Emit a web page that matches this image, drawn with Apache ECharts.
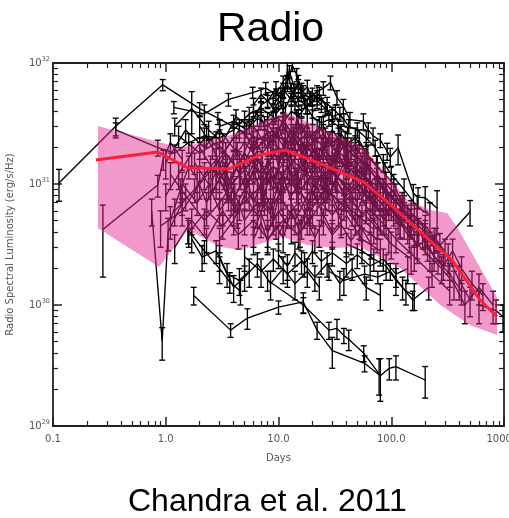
<!DOCTYPE html>
<html>
<head>
<meta charset="utf-8">
<script src="https://cdn.jsdelivr.net/npm/echarts@6/dist/echarts.min.js"></script>
<style>
  html, body { margin: 0; padding: 0; background: #fff; }
  #chart { width: 509px; height: 518px; }
</style>
</head>
<body>
<div id="chart"></div>
<script>
// Luminosities below are given in units of 1e30 erg/s/Hz.
const LUM_UNIT = 1e30;

// Individual radio light curves: [days, luminosity, 1-sigma error]
const sn01 = [[0.113,10.2,3],[0.36,30,5],[0.94,66,7],[2.0,42,5],[2.9,35,4],[4.5,28,4],[6.5,24,4],[9,22,3]];
const sn02 = [[0.36,28,4],[0.85,20,3],[1.2,18,3],[1.6,22,4],[2.2,25,4],[3,24,4],[4,28,4],[5.5,38,5],[7,42,5],[9,36,4]];
const sn03 = [[1.2,30,5],[1.7,42,16],[2.4,28,5],[3.2,22,4],[4.2,36,5],[5.5,30,4],[7,45,6],[9,52,6],[11,60,8],[13,50,6],[16,40,5]];
const sn04 = [[1.18,43,5],[2.2,38,7],[3.6,50,6],[5.9,57,6],[7.7,62,7],[9.5,55,6],[11,70,8],[12.5,85,10],[14,60,7]];
const sn05 = [[9,45,6],[10.5,55,7],[12,70,9],[13.3,95,10],[14.5,80,10],[16,60,8],[19,50,6],[22,48,6]];
const sn06 = [[14,45,6],[16,55,7],[19,52,6],[22,58,7],[25,62,8],[28.9,69,9],[33,52,7],[37.6,44,6],[43,34,5],[56.6,33,5],[62.6,28,4],[69,25,4],[80,23,3],[92,18.7,3],[98,16.7,3],[115,19.9,5.5],[157,8.4,1.5],[173,7.8,1.5],[200,7.7,1.8],[255,6.3,2.5]];
const sn07 = [[20,40,5],[26,42,5],[30,36,5],[35,38,5],[42,30,4],[50,28,4],[60,24,3.5],[72,20,3],[85,15,2.5],[100,12,2],[130,9,2],[170,6.5,1.5],[220,5.5,1.5]];
const sn08 = [[150,4.5,1],[200,3.8,0.9],[270,3.1,0.8],[500,5.9,1.4]];
const sn09 = [[5,35,5],[6,40,5],[7.5,32,4],[9,40,5],[10,48,6],[11.5,42,5],[13,55,7],[15,65,8],[17,48,6],[20,55,7],[24,45,6],[30,38,5]];
const sn10 = [[8,50,7],[9.5,38,5],[11,45,6],[12,90,12],[13,60,8],[15,50,6],[18,44,6],[22,52,7],[27,46,6],[32,40,5],[38,34,4]];
const sn11 = [[1.2,6,1.5],[1.8,9,2],[2.5,14,3],[3.5,10,2.5],[5,18,4],[7,12,3],[10,20,4],[14,15,3],[20,11,2.5],[30,8,2],[45,6,1.5],[70,4.2,1]];
const sn12 = [[1.1,12,3],[1.5,8,2],[2.2,5,1.2],[3,7,1.5],[4.5,12,3],[6,22,5],[9,28,6],[12,18,4],[17,25,5],[25,14,3],[40,10,2.5],[60,8,2],[90,5,1.2]];
const sn13 = [[1.3,25,5],[2,18,4],[2.8,22,5],[4,15,3.5],[5.5,8,2],[8,6,1.5],[11,9,2],[15,13,3],[22,20,4],[32,16,3.5],[50,12,3],[80,7,1.5],[120,4.5,1]];
const sn14 = [[0.9,4.5,1.5],[1.4,6,1.5],[2,10,2.5],[3,16,4],[4,24,5],[6,30,6],[8,20,4],[11,32,6],[15,24,5],[20,18,4],[28,22,5],[40,14,3],[55,11,2.5],[75,8,2],[110,6,1.3],[160,4,1]];
const sn15 = [[1.6,4,1],[2.3,6,1.5],[3.2,4.5,1],[4.5,6.5,1.5],[6.5,9,2],[9,14,3],[13,10,2.5],[19,7,1.5],[27,9,2],[38,6.5,1.5],[52,4.5,1],[75,3.5,0.8]];
const sn16 = [[2,30,6],[2.6,20,4],[3.3,12,3],[4.2,20,4],[5.5,14,3],[7.5,25,5],[10,16,3.5],[13,28,6],[18,20,4],[25,26,5],[35,18,4],[48,14,3],[65,10,2.5],[90,7,1.5]];
const sn17 = [[3,3.5,0.8],[4,5,1.2],[5,8,2],[6.5,5.5,1.2],[8.5,12,3],[11,7,1.5],[14,5,1.2],[18,8,2],[24,12,3],[33,9,2],[45,7,1.5],[65,5,1.2],[100,3.2,0.8],[150,2.4,0.6]];
const sn18 = [[5,28,6],[6,18,4],[7,35,7],[8.5,22,5],[10,30,6],[12,18,4],[14,24,5],[17,15,3],[21,20,4],[26,12,3],[33,17,4],[42,12,3],[55,9,2],[70,6.5,1.5]];
const sn19 = [[1.0,15,4],[1.5,28,6],[2.2,20,4],[3,28,6],[4.3,18,4],[6,10,2.5],[8,14,3],[10.5,8,2],[14,11,2.5],[19,6,1.5],[26,9,2],[36,5,1.2]];
const sn20 = [[6,4,1],[7.5,7,1.5],[9,5,1.2],[11,12,3],[13,7,1.5],[16,4.5,1],[20,9,2],[24,6,1.5],[30,4,1],[40,5.5,1.2],[55,3.5,0.8],[80,2.8,0.7]];
const sn21 = [[2.5,8,2],[3.5,14,3],[5,22,5],[7,15,3.5],[9,9,2],[12,14,3],[16,9,2],[22,14,3],[30,10,2],[42,15,3.5],[60,11,2.5],[85,9,2],[120,6.5,1.5],[170,5,1.2],[240,3.5,0.8]];
const sn22 = [[8,32,7],[9.5,24,5],[11,35,7],[13,26,5],[15,32,6],[18,24,5],[22,28,6],[27,20,4],[34,24,5],[44,18,4],[58,15,3],[75,11,2.5],[100,8,2],[140,5.5,1.2],[200,4,1],[300,2.8,0.7]];
const sn23 = [[1.8,15,3],[2.4,10,2.5],[3,6,1.5],[4,9,2],[5,5,1.2],[6.5,7,1.5],[8,4,1],[10,6,1.5],[13,4.2,1],[17,5.5,1.2],[23,4,1]];
const sn24 = [[3.8,10,2.5],[5,13,3],[6,7,1.5],[7,10,2.5],[8,16,4],[9.5,11,2.5],[11,20,4],[13,14,3],[16,22,5],[20,14,3],[25,18,4],[32,12,3],[40,9,2],[50,12,3],[65,8,2],[85,6,1.5]];
const sn25 = [[15,10,2.5],[20,16,3.5],[25,9,2],[30,13,3],[38,8,2],[48,10,2.5],[60,6.5,1.5],[80,5,1.2],[110,3.5,0.8],[160,2.5,0.6],[230,1.8,0.4],[330,1.3,0.3]];
const sn26 = [[60,15,3],[75,12,3],[90,10,2.5],[110,8,2],[130,6.5,1.5],[160,5.5,1.2],[200,4.5,1],[250,3.5,0.8],[320,2.5,0.7],[400,1.6,0.5],[500,1.1,0.3]];
const sn27 = [[40,20,4],[50,16,3.5],[65,13,3],[85,9,2],[105,6,1.5],[130,4.5,1],[170,3.2,0.8],[220,2.5,0.6],[280,2,0.5],[360,1.5,0.4],[450,1.0,0.3],[600,1.4,0.4],[800,1.0,0.3]];
const sn28 = [[1.2,3,0.8],[1.7,5,1.2],[2.3,3.5,0.8],[3.2,6,1.5],[4.4,3.8,0.9],[6,5,1.2],[8,3.5,0.8],[11,5,1.2],[15,3.8,0.9],[20,5.5,1.2]];
const sn29 = [[1.0,8,2],[1.3,12,3],[1.7,18,4],[2.3,25,5],[3.2,18,4],[4.5,28,6],[6.5,20,4],[9,26,5],[12,22,5],[16,30,6],[21,22,5]];
const sn30 = [[25,30,6],[30,22,5],[36,26,5],[44,20,4],[52,23,5],[62,17,4],[74,14,3],[88,12,3],[105,10,2],[125,7,1.5],[150,6,1.3]];
const sn31 = [[10,3.8,1],[12,5.5,1.2],[15,7,1.5],[19,5,1.2],[24,7,1.5],[30,5.5,1.2],[38,7.5,1.5],[48,5,1.2],[60,6,1.3],[76,4.5,1],[95,3.5,0.8]];
const sn32 = [[2,20,4],[2.8,12,3],[3.8,7,1.5],[5,11,2.5],[6.5,16,3.5],[8.5,10,2.5],[11,15,3],[14,20,4],[18,12,3],[23,16,3.5],[30,28,6],[38,20,4],[48,24,5],[60,18,4],[75,14,3]];
const sn33 = [[0.277,4.2,2.5],[0.85,9.8,2],[0.95,16,3],[1.1,22,4],[1.4,16,3]];
const sn34 = [[0.75,6,1.5],[0.93,0.5,0.15],[1.05,4,1.2],[1.4,7,1.5]];
const sn35 = [[1.57,4.2,1],[2.2,2.8,0.6],[3,2.0,0.5],[3.7,1.55,0.3],[4.6,1.3,0.3]];
const sn36 = [[1.7,3.5,0.8],[2.1,2.5,0.6],[2.8,2.8,0.6],[3.5,1.8,0.4],[4.5,1.6,0.4],[5.5,1.9,0.5]];
const sn37 = [[1.77,1.2,0.2],[3.76,0.62,0.08],[5.3,0.78,0.15],[10,0.96,0.12],[16.6,1.06,0.2],[22,0.62,0.1],[30,0.42,0.12],[58,0.33,0.05],[80,0.26,0.1],[96,0.3,0.06],[110,0.31,0.07],[200,0.24,0.07]];
const sn38 = [[8,1.6,0.3],[16.6,1.0,0.15],[28,0.62,0.1],[33,0.64,0.12],[38,0.56,0.08],[42,0.52,0.1],[57,0.4,0.06],[78,0.27,0.09]];
const sn39 = [[28,1.9,0.3],[38,1.6,0.4],[58,1.8,0.3],[76,1.7,0.2],[98,1.9,0.3],[126,1.4,0.3],[155,1.1,0.2],[215,1.4,0.3]];
const sn40 = [[5,2.5,0.6],[7,1.9,0.5],[9,2.4,0.5],[12,1.8,0.4],[16,2.3,0.5],[21,1.7,0.4],[27,2.2,0.5],[35,1.5,0.4],[45,2.0,0.4],[60,1.4,0.3],[80,1.2,0.3]];
const sn41 = [[3,2.5,0.6],[4,1.4,0.35],[5,1.7,0.4],[6.5,2.2,0.5],[8.5,1.5,0.4],[11,2.0,0.5],[14,1.5,0.4],[18,1.9,0.5],[23,1.4,0.3]];
const sn42 = [[10,2.6,0.6],[12,2.1,0.5],[14,2.7,0.6],[17,2.2,0.5],[20,2.8,0.6],[24,2.3,0.5],[30,2.7,0.6],[40,2.2,0.5],[50,2.6,0.6],[65,2.1,0.5],[85,2.4,0.5],[110,1.8,0.4],[140,2.0,0.5]];
const sn43 = [[40,3.2,0.7],[55,2.8,0.6],[70,2.4,0.5],[90,2.1,0.5],[110,1.6,0.4],[135,1.3,0.3],[160,1.2,0.3]];
const sn44 = [[600,1.0,0.3],[850,0.9,0.2],[980,0.8,0.2]];
const sn45 = [[1.4,10,2.5],[1.9,7,1.5],[2.6,11,2.5],[3.4,18,4],[4.6,12,3],[6,16,3.5],[7.8,10,2.5],[10,13,3],[13,8,2],[17,12,3],[22,9,2],[29,13,3],[38,10,2.5],[50,7,1.5]];
const sn46 = [[4,6,1.5],[5,9,2],[6,13,3],[7.2,8,2],[8.5,6,1.5],[10,10,2.5],[12,14,3],[14.5,9,2],[17.5,16,3.5],[21,10,2.5],[26,7,1.5],[32,11,2.5],[40,8,2],[52,10,2.5],[68,7,1.5],[90,5.5,1.2]];
const sn47 = [[2.2,12,3],[2.8,16,3.5],[3.5,9,2],[4.5,15,3.5],[5.8,25,5],[7.2,18,4],[9,24,5],[11,16,3.5],[13.5,26,5],[16.5,18,4],[20,26,5],[25,20,4],[31,15,3],[39,22,5],[50,17,4],[65,13,3]];
const sn48 = [[7,9,2],[8,13,3],[9,20,4],[10,14,3],[11.5,24,5],[13,16,3.5],[14.5,11,2.5],[16,17,4],[18,22,5],[21,15,3.5],[24,20,4],[28,14,3],[33,19,4],[40,13,3],[48,16,3.5],[58,12,3],[72,9,2],[95,7,1.5]];
const sn49 = [[3,11,2.5],[3.6,8,2],[4.3,5.5,1.2],[5.2,9,2],[6.2,14,3],[7.4,9,2],[8.8,6,1.5],[10.5,9,2],[12.5,13,3],[15,8,2],[18,11,2.5],[22,7,1.5],[27,10,2.5],[34,6,1.5],[43,8,2],[55,5.5,1.2]];
const sn50 = [[20,8,2],[24,12,3],[28,8,2],[33,11,2.5],[39,16,3.5],[46,11,2.5],[54,14,3],[64,10,2.5],[76,12,3],[90,8,2],[105,9,2],[125,6,1.5],[150,5,1.2],[190,3.8,0.9],[240,3,0.7]];
const sn51 = [[50,6,1.5],[60,9,2],[72,7,1.5],[86,5,1.2],[100,6.5,1.5],[120,4.8,1.2],[145,3.6,0.9],[175,4.2,1],[210,3,0.7],[260,2.3,0.5],[330,1.8,0.4],[420,1.3,0.3]];
const sn52 = [[1.1,5,1.5],[1.35,9,2],[1.6,14,3],[1.9,11,2.5],[2.3,7,1.5],[2.8,10,2.5],[3.4,13,3],[4.1,8,2],[5,11,2.5]];
const sn53 = [[10,24,5],[11.5,30,6],[13,22,5],[14.5,34,7],[16,26,5],[18,32,6],[20,22,5],[23,30,6],[26,24,5],[30,20,4],[35,25,5],[41,18,4],[48,21,4],[56,16,3.5]];
const sn54 = [[6,3.5,0.9],[7,4.8,1.2],[8,3.4,0.8],[9.5,4.5,1],[11,3.6,0.9],[13,6,1.5],[15.5,4,1],[18,5,1.2],[21,3.6,0.9],[25,5,1.2],[30,3.8,0.9],[36,4.6,1],[44,3.4,0.8],[54,4.4,1],[66,3.2,0.8]];
const sn55 = [[80,8,2],[95,6.5,1.5],[115,5,1.2],[140,4.2,1],[170,3,0.8],[200,3.5,0.9],[240,2.5,0.6],[290,2.1,0.5],[350,2.8,0.7],[420,2,0.5],[520,1.5,0.4],[650,1.2,0.3]];
const sn56 = [[6,45,6],[7,55,7],[8,48,6],[9.5,62,8],[10.5,50,6],[12,66,8],[13.5,55,7],[15,70,9],[16.5,58,7],[18,64,8],[20,50,6],[23,56,7],[27,42,5]];
const sn57 = [[3,30,4],[4,33,4],[5.2,28,4],[6.5,35,5],[8,30,4],[9.5,36,5],[11,32,4],[13,40,5],[15,36,5],[17.5,44,6],[20,36,5],[24,32,4],[28,34,4],[34,30,4],[41,26,3.5]];

const lightCurves = [sn01,sn02,sn03,sn04,sn05,sn06,sn07,sn08,sn09,sn10,sn11,sn12,sn13,sn14,sn15,
  sn16,sn17,sn18,sn19,sn20,sn21,sn22,sn23,sn24,sn25,sn26,sn27,sn28,sn29,sn30,sn31,sn32,sn33,
  sn34,sn35,sn36,sn37,sn38,sn39,sn40,sn41,sn42,sn43,sn44,sn45,sn46,sn47,sn48,sn49,sn50,sn51,
  sn52,sn53,sn54,sn55,sn56,sn57];

// Median light curve
const medianDays = [0.24, 0.85, 1.57, 3.6, 6.9, 11.5, 25, 56.5, 94, 221, 347, 614, 867];
const medianLum  = [15.8, 18.4, 13.6, 13.3, 17.4, 19.1, 14.4, 10.4, 7.0, 3.4, 2.35, 1.1, 0.8];

// Spread envelope around the median: upper and lower edges [days, luminosity]
const bandUpper = [[0.25,30.1],[1.36,19.9],[3.76,25.4],[11.5,39.4],[28.8,26.9],[56.5,20.2],[139,7.4],[221,6.1],[313,5.75],[384,4.4],[867,1.16]];
const bandLower = [[0.25,4.33],[0.87,2.06],[1.57,4.17],[3.07,3.01],[4.61,2.85],[10.8,3.65],[18.1,3.13],[30.7,2.96],[53.2,3.01],[120,2.02],[272,1.0],[502,0.68],[867,0.565]];

// Axis ticks
const xMajorTicks = [0.1, 1, 10, 100, 1000];
const xTickLabels = ['0.1', '1.0', '10.0', '100.0', '1000.0'];
const xMinorTicks = [0.2,0.3,0.4,0.5,0.6,0.7,0.8,0.9,2,3,4,5,6,7,8,9,20,30,40,50,60,70,80,90,200,300,400,500,600,700,800,900];
const yMajorTicks = [1e29, 1e30, 1e31, 1e32];
const yTickExponents = ['29', '30', '31', '32'];
const yMinorTicks = [2e29,3e29,4e29,5e29,6e29,7e29,8e29,9e29,2e30,3e30,4e30,5e30,6e30,7e30,8e30,9e30,2e31,3e31,4e31,5e31,6e31,7e31,8e31,9e31];

const X_MIN = 0.1, X_MAX = 1000, Y_MIN = 1e29, Y_MAX = 1e32;
const FRAME = '#222';
const LABEL_GRAY = '#555';
const FONT = 'Liberation Sans, Arial, sans-serif';

function nearestIndex(ticks, v) {
  let best = 0, bd = Infinity;
  ticks.forEach((t, i) => {
    const d = Math.abs(Math.log10(t) - Math.log10(v));
    if (d < bd) { bd = d; best = i; }
  });
  return best;
}

function logAxis(kind, pos, opts) {
  const isX = kind === 'x';
  return Object.assign({
    type: 'log', logBase: 10, position: pos,
    min: isX ? X_MIN : Y_MIN, max: isX ? X_MAX : Y_MAX,
    splitLine: { show: false },
    axisLine: { show: false },
    axisLabel: { show: false },
    axisTick: { show: false },
    minorTick: { show: false }
  }, opts);
}

const majorTick = (vals) => ({ show: true, inside: true, length: 9, customValues: vals, lineStyle: { color: FRAME, width: 1.5 } });
const minorTickStyle = (vals) => ({ show: true, inside: true, length: 5, customValues: vals, lineStyle: { color: FRAME, width: 1.2 } });
const frameLine = { show: true, lineStyle: { color: FRAME, width: 1.8 } };

const xAxes = [
  logAxis('x', 'bottom', {
    axisLine: frameLine,
    axisTick: majorTick(xMajorTicks),
    axisLabel: {
      show: true, customValues: xMajorTicks, color: LABEL_GRAY, fontSize: 10, fontFamily: 'DejaVu Sans', margin: 8,
      formatter: (v) => xTickLabels[nearestIndex(xMajorTicks, v)]
    },
    name: 'Days', nameLocation: 'middle', nameGap: 27,
    nameTextStyle: { color: LABEL_GRAY, fontSize: 10, fontFamily: 'DejaVu Sans' }
  }),
  logAxis('x', 'top', { axisLine: frameLine, axisTick: majorTick(xMajorTicks) }),
  logAxis('x', 'bottom', { axisTick: minorTickStyle(xMinorTicks) }),
  logAxis('x', 'top', { axisTick: minorTickStyle(xMinorTicks) })
];

const yAxes = [
  logAxis('y', 'left', {
    axisLine: frameLine,
    axisTick: majorTick(yMajorTicks),
    axisLabel: {
      show: true, customValues: yMajorTicks, margin: 3,
      formatter: (v) => '{b|10}{s|' + yTickExponents[nearestIndex(yMajorTicks, v)] + '}',
      rich: {
        b: { color: LABEL_GRAY, fontSize: 10, fontFamily: 'DejaVu Sans', lineHeight: 14 },
        s: { color: LABEL_GRAY, fontSize: 6.5, fontFamily: 'DejaVu Sans', verticalAlign: 'top', lineHeight: 14 }
      }
    },
    name: 'Radio Spectral Luminosity (erg/s/Hz)', nameLocation: 'middle', nameGap: 38, nameRotate: 90,
    nameTextStyle: { color: LABEL_GRAY, fontSize: 10, fontFamily: 'DejaVu Sans' }
  }),
  logAxis('y', 'right', { axisLine: frameLine, axisTick: majorTick(yMajorTicks) }),
  logAxis('y', 'left', { axisTick: minorTickStyle(yMinorTicks) }),
  logAxis('y', 'right', { axisTick: minorTickStyle(yMinorTicks) })
];

// Connecting lines of each light curve
const curveSeries = lightCurves.map((c) => ({
  type: 'line',
  data: c.map((p) => [p[0], p[1] * LUM_UNIT]),
  symbol: 'none',
  lineStyle: { color: '#000', width: 1.35 },
  z: 2, silent: true, animation: false
}));

// Error bars with caps for every measurement
const errorData = [];
lightCurves.forEach((c) => c.forEach((p) => {
  errorData.push([p[0], (p[1] - p[2]) * LUM_UNIT, (p[1] + p[2]) * LUM_UNIT]);
}));

const CAP = 3;
const errorSeries = {
  type: 'custom',
  data: errorData,
  encode: { x: 0, y: [1, 2] },
  clip: true, z: 2, silent: true, animation: false,
  renderItem: (params, api) => {
    const t = api.value(0);
    const lo = api.coord([t, api.value(1)]);
    const hi = api.coord([t, api.value(2)]);
    const st = { stroke: '#000', lineWidth: 1.35 };
    return {
      type: 'group',
      children: [
        { type: 'line', shape: { x1: lo[0], y1: lo[1], x2: hi[0], y2: hi[1] }, style: st },
        { type: 'line', shape: { x1: lo[0] - CAP, y1: lo[1], x2: lo[0] + CAP, y2: lo[1] }, style: st },
        { type: 'line', shape: { x1: hi[0] - CAP, y1: hi[1], x2: hi[0] + CAP, y2: hi[1] }, style: st }
      ]
    };
  }
};

// Translucent envelope drawn over the light curves
const bandSeries = {
  type: 'custom',
  data: [[bandUpper[0][0], bandUpper[0][1] * LUM_UNIT]],
  clip: true, z: 3, silent: true, animation: false,
  renderItem: (params, api) => {
    const pts = bandUpper.map((p) => api.coord([p[0], p[1] * LUM_UNIT]))
      .concat(bandLower.slice().reverse().map((p) => api.coord([p[0], p[1] * LUM_UNIT])));
    return {
      type: 'polygon',
      shape: { points: pts },
      style: { fill: 'rgba(228,36,142,0.47)', stroke: null }
    };
  }
};

const medianSeries = {
  type: 'line',
  data: medianDays.map((d, i) => [d, medianLum[i] * LUM_UNIT]),
  symbol: 'none',
  lineStyle: { color: '#f7213a', width: 3 },
  z: 4, silent: true, animation: false
};

const chart = echarts.init(document.getElementById('chart'), null, { renderer: 'canvas' });
chart.setOption({
  animation: false,
  backgroundColor: '#fff',
  title: [
    { text: 'Radio', left: 212, top: 4, textStyle: { fontSize: 41, fontWeight: 'normal', color: '#000', fontFamily: FONT } },
    { text: 'Chandra et al. 2011', left: 123, top: 481, textStyle: { fontSize: 32, fontWeight: 'normal', color: '#000', fontFamily: FONT } }
  ],
  grid: { left: 53, right: 5, top: 63, bottom: 92, containLabel: false, outerBoundsMode: 'none' },
  xAxis: xAxes,
  yAxis: yAxes,
  series: curveSeries.concat([errorSeries, bandSeries, medianSeries])
});
</script>
</body>
</html>
